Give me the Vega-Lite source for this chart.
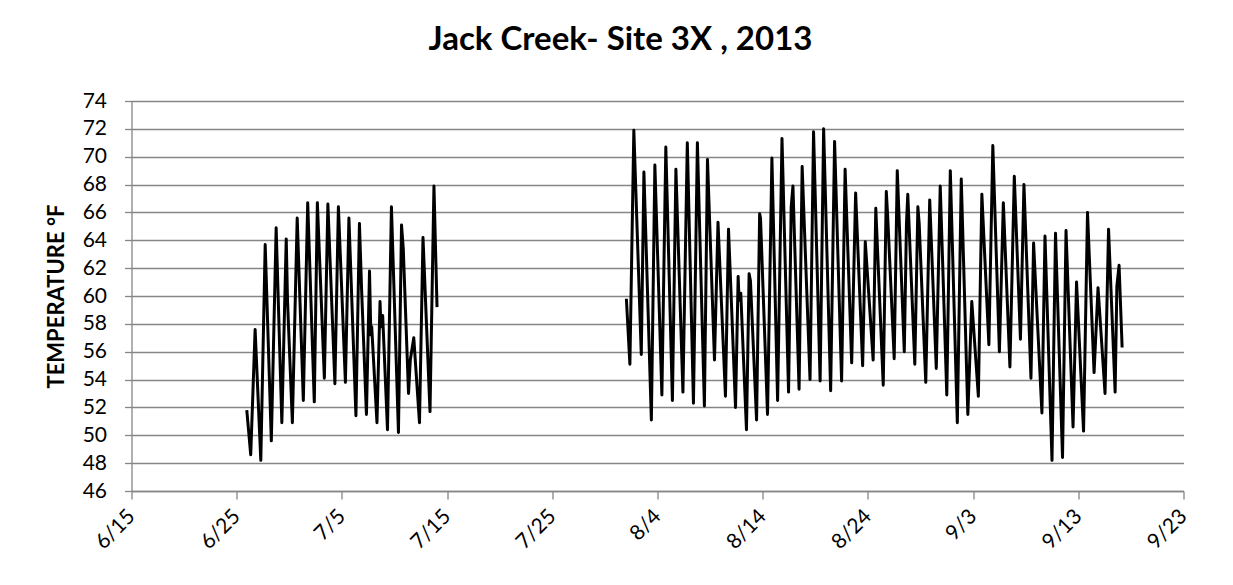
{
  "$schema": "https://vega.github.io/schema/vega-lite/v6.json",
  "width": 1052,
  "height": 390,
  "autosize": {"type": "none"},
  "padding": {"left": 131.5, "top": 101, "right": 49.5, "bottom": 94},
  "background": "white",
  "title": {
    "text": "Jack Creek- Site 3X , 2013",
    "font": "Lato",
    "fontSize": 33,
    "fontWeight": "bold",
    "color": "#000000",
    "anchor": "middle",
    "frame": "group",
    "dx": -37,
    "offset": 33
  },
  "data": {
    "values": [
      {"t": "2013-06-25T23:00", "temp": 51.8, "seg": 1},
      {"t": "2013-06-26T08:00", "temp": 48.6, "seg": 1},
      {"t": "2013-06-26T18:00", "temp": 57.6, "seg": 1},
      {"t": "2013-06-27T07:00", "temp": 48.2, "seg": 1},
      {"t": "2013-06-27T17:00", "temp": 63.7, "seg": 1},
      {"t": "2013-06-28T07:00", "temp": 49.6, "seg": 1},
      {"t": "2013-06-28T18:00", "temp": 64.9, "seg": 1},
      {"t": "2013-06-29T07:00", "temp": 50.9, "seg": 1},
      {"t": "2013-06-29T17:00", "temp": 64.1, "seg": 1},
      {"t": "2013-06-29T20:00", "temp": 59.6, "seg": 1},
      {"t": "2013-06-30T07:00", "temp": 50.9, "seg": 1},
      {"t": "2013-06-30T18:00", "temp": 65.6, "seg": 1},
      {"t": "2013-07-01T08:00", "temp": 52.5, "seg": 1},
      {"t": "2013-07-01T18:00", "temp": 66.7, "seg": 1},
      {"t": "2013-07-02T09:00", "temp": 52.4, "seg": 1},
      {"t": "2013-07-02T16:00", "temp": 66.7, "seg": 1},
      {"t": "2013-07-03T08:00", "temp": 54.1, "seg": 1},
      {"t": "2013-07-03T16:00", "temp": 66.6, "seg": 1},
      {"t": "2013-07-04T08:00", "temp": 53.7, "seg": 1},
      {"t": "2013-07-04T16:00", "temp": 66.4, "seg": 1},
      {"t": "2013-07-05T08:00", "temp": 53.8, "seg": 1},
      {"t": "2013-07-05T16:00", "temp": 65.6, "seg": 1},
      {"t": "2013-07-06T08:00", "temp": 51.4, "seg": 1},
      {"t": "2013-07-06T16:00", "temp": 65.2, "seg": 1},
      {"t": "2013-07-06T21:00", "temp": 60.4, "seg": 1},
      {"t": "2013-07-07T08:00", "temp": 51.5, "seg": 1},
      {"t": "2013-07-07T15:00", "temp": 61.8, "seg": 1},
      {"t": "2013-07-07T18:00", "temp": 57.2, "seg": 1},
      {"t": "2013-07-07T20:00", "temp": 57.8, "seg": 1},
      {"t": "2013-07-08T08:00", "temp": 50.9, "seg": 1},
      {"t": "2013-07-08T15:00", "temp": 59.6, "seg": 1},
      {"t": "2013-07-08T17:00", "temp": 57.8, "seg": 1},
      {"t": "2013-07-08T21:00", "temp": 58.6, "seg": 1},
      {"t": "2013-07-09T08:00", "temp": 50.4, "seg": 1},
      {"t": "2013-07-09T17:00", "temp": 66.4, "seg": 1},
      {"t": "2013-07-10T09:00", "temp": 50.2, "seg": 1},
      {"t": "2013-07-10T16:00", "temp": 65.1, "seg": 1},
      {"t": "2013-07-10T20:00", "temp": 63.4, "seg": 1},
      {"t": "2013-07-11T08:00", "temp": 53.0, "seg": 1},
      {"t": "2013-07-11T12:00", "temp": 55.4, "seg": 1},
      {"t": "2013-07-11T20:00", "temp": 57.0, "seg": 1},
      {"t": "2013-07-12T09:00", "temp": 50.9, "seg": 1},
      {"t": "2013-07-12T17:00", "temp": 64.2, "seg": 1},
      {"t": "2013-07-13T09:00", "temp": 51.7, "seg": 1},
      {"t": "2013-07-13T18:00", "temp": 67.9, "seg": 1},
      {"t": "2013-07-14T01:00", "temp": 59.2, "seg": 1},
      {"t": "2013-08-01T01:00", "temp": 59.8, "seg": 2},
      {"t": "2013-08-01T09:00", "temp": 55.1, "seg": 2},
      {"t": "2013-08-01T18:00", "temp": 71.9, "seg": 2},
      {"t": "2013-08-02T11:00", "temp": 55.8, "seg": 2},
      {"t": "2013-08-02T17:00", "temp": 68.9, "seg": 2},
      {"t": "2013-08-03T10:00", "temp": 51.1, "seg": 2},
      {"t": "2013-08-03T18:00", "temp": 69.4, "seg": 2},
      {"t": "2013-08-04T10:00", "temp": 52.9, "seg": 2},
      {"t": "2013-08-04T19:00", "temp": 70.7, "seg": 2},
      {"t": "2013-08-05T10:00", "temp": 52.5, "seg": 2},
      {"t": "2013-08-05T18:00", "temp": 69.1, "seg": 2},
      {"t": "2013-08-06T10:00", "temp": 53.1, "seg": 2},
      {"t": "2013-08-06T20:00", "temp": 71.0, "seg": 2},
      {"t": "2013-08-07T10:00", "temp": 52.3, "seg": 2},
      {"t": "2013-08-07T19:00", "temp": 71.0, "seg": 2},
      {"t": "2013-08-08T11:00", "temp": 52.1, "seg": 2},
      {"t": "2013-08-08T18:00", "temp": 69.8, "seg": 2},
      {"t": "2013-08-09T10:00", "temp": 55.4, "seg": 2},
      {"t": "2013-08-09T18:00", "temp": 65.3, "seg": 2},
      {"t": "2013-08-10T11:00", "temp": 52.8, "seg": 2},
      {"t": "2013-08-10T18:00", "temp": 64.8, "seg": 2},
      {"t": "2013-08-11T10:00", "temp": 52.0, "seg": 2},
      {"t": "2013-08-11T16:00", "temp": 61.4, "seg": 2},
      {"t": "2013-08-11T18:00", "temp": 59.7, "seg": 2},
      {"t": "2013-08-11T22:00", "temp": 60.2, "seg": 2},
      {"t": "2013-08-12T11:00", "temp": 50.4, "seg": 2},
      {"t": "2013-08-12T17:00", "temp": 61.6, "seg": 2},
      {"t": "2013-08-12T20:00", "temp": 61.1, "seg": 2},
      {"t": "2013-08-13T10:00", "temp": 51.1, "seg": 2},
      {"t": "2013-08-13T17:00", "temp": 65.9, "seg": 2},
      {"t": "2013-08-13T19:00", "temp": 65.6, "seg": 2},
      {"t": "2013-08-14T11:00", "temp": 51.5, "seg": 2},
      {"t": "2013-08-14T21:00", "temp": 69.9, "seg": 2},
      {"t": "2013-08-15T10:00", "temp": 52.5, "seg": 2},
      {"t": "2013-08-15T20:00", "temp": 71.3, "seg": 2},
      {"t": "2013-08-16T11:00", "temp": 53.1, "seg": 2},
      {"t": "2013-08-16T17:00", "temp": 66.4, "seg": 2},
      {"t": "2013-08-16T21:00", "temp": 67.9, "seg": 2},
      {"t": "2013-08-17T11:00", "temp": 53.3, "seg": 2},
      {"t": "2013-08-17T18:00", "temp": 69.3, "seg": 2},
      {"t": "2013-08-18T12:00", "temp": 54.0, "seg": 2},
      {"t": "2013-08-18T20:00", "temp": 71.8, "seg": 2},
      {"t": "2013-08-19T11:00", "temp": 53.9, "seg": 2},
      {"t": "2013-08-19T19:00", "temp": 72.0, "seg": 2},
      {"t": "2013-08-20T11:00", "temp": 53.2, "seg": 2},
      {"t": "2013-08-20T20:00", "temp": 71.1, "seg": 2},
      {"t": "2013-08-21T12:00", "temp": 53.9, "seg": 2},
      {"t": "2013-08-21T20:00", "temp": 69.1, "seg": 2},
      {"t": "2013-08-22T11:00", "temp": 55.2, "seg": 2},
      {"t": "2013-08-22T20:00", "temp": 67.4, "seg": 2},
      {"t": "2013-08-23T12:00", "temp": 55.0, "seg": 2},
      {"t": "2013-08-23T18:00", "temp": 63.9, "seg": 2},
      {"t": "2013-08-24T12:00", "temp": 55.4, "seg": 2},
      {"t": "2013-08-24T18:00", "temp": 66.3, "seg": 2},
      {"t": "2013-08-25T11:00", "temp": 53.6, "seg": 2},
      {"t": "2013-08-25T18:00", "temp": 67.5, "seg": 2},
      {"t": "2013-08-25T21:00", "temp": 65.8, "seg": 2},
      {"t": "2013-08-26T12:00", "temp": 55.5, "seg": 2},
      {"t": "2013-08-26T19:00", "temp": 69.0, "seg": 2},
      {"t": "2013-08-27T11:00", "temp": 56.0, "seg": 2},
      {"t": "2013-08-27T16:00", "temp": 65.2, "seg": 2},
      {"t": "2013-08-27T19:00", "temp": 67.3, "seg": 2},
      {"t": "2013-08-28T11:00", "temp": 55.1, "seg": 2},
      {"t": "2013-08-28T18:00", "temp": 66.4, "seg": 2},
      {"t": "2013-08-28T21:00", "temp": 65.2, "seg": 2},
      {"t": "2013-08-29T12:00", "temp": 53.8, "seg": 2},
      {"t": "2013-08-29T21:00", "temp": 66.9, "seg": 2},
      {"t": "2013-08-30T12:00", "temp": 54.8, "seg": 2},
      {"t": "2013-08-30T21:00", "temp": 67.9, "seg": 2},
      {"t": "2013-08-31T12:00", "temp": 52.9, "seg": 2},
      {"t": "2013-08-31T20:00", "temp": 69.0, "seg": 2},
      {"t": "2013-09-01T12:00", "temp": 50.9, "seg": 2},
      {"t": "2013-09-01T21:00", "temp": 68.4, "seg": 2},
      {"t": "2013-09-02T12:00", "temp": 51.5, "seg": 2},
      {"t": "2013-09-02T21:00", "temp": 59.6, "seg": 2},
      {"t": "2013-09-03T12:00", "temp": 52.8, "seg": 2},
      {"t": "2013-09-03T20:00", "temp": 67.3, "seg": 2},
      {"t": "2013-09-04T12:00", "temp": 56.5, "seg": 2},
      {"t": "2013-09-04T21:00", "temp": 70.8, "seg": 2},
      {"t": "2013-09-05T12:00", "temp": 56.0, "seg": 2},
      {"t": "2013-09-05T21:00", "temp": 66.7, "seg": 2},
      {"t": "2013-09-06T12:00", "temp": 54.9, "seg": 2},
      {"t": "2013-09-06T22:00", "temp": 68.6, "seg": 2},
      {"t": "2013-09-07T12:00", "temp": 56.9, "seg": 2},
      {"t": "2013-09-07T20:00", "temp": 68.0, "seg": 2},
      {"t": "2013-09-08T12:00", "temp": 54.1, "seg": 2},
      {"t": "2013-09-08T18:00", "temp": 63.8, "seg": 2},
      {"t": "2013-09-09T13:00", "temp": 51.6, "seg": 2},
      {"t": "2013-09-09T20:00", "temp": 64.3, "seg": 2},
      {"t": "2013-09-10T12:00", "temp": 48.2, "seg": 2},
      {"t": "2013-09-10T20:00", "temp": 64.5, "seg": 2},
      {"t": "2013-09-11T12:00", "temp": 48.4, "seg": 2},
      {"t": "2013-09-11T20:00", "temp": 64.7, "seg": 2},
      {"t": "2013-09-12T12:00", "temp": 50.6, "seg": 2},
      {"t": "2013-09-12T20:00", "temp": 61.0, "seg": 2},
      {"t": "2013-09-13T12:00", "temp": 50.3, "seg": 2},
      {"t": "2013-09-13T21:00", "temp": 66.0, "seg": 2},
      {"t": "2013-09-14T12:00", "temp": 54.5, "seg": 2},
      {"t": "2013-09-14T21:00", "temp": 60.6, "seg": 2},
      {"t": "2013-09-15T13:00", "temp": 53.0, "seg": 2},
      {"t": "2013-09-15T21:00", "temp": 64.8, "seg": 2},
      {"t": "2013-09-16T12:00", "temp": 53.1, "seg": 2},
      {"t": "2013-09-16T16:00", "temp": 60.7, "seg": 2},
      {"t": "2013-09-16T21:00", "temp": 62.2, "seg": 2},
      {"t": "2013-09-17T04:00", "temp": 56.3, "seg": 2}
    ]
  },
  "mark": {"type": "line", "color": "#000000", "strokeWidth": 3, "strokeJoin": "round", "clip": true},
  "encoding": {
    "x": {
      "field": "t",
      "type": "temporal",
      "scale": {
        "domain": [
          {"year": 2013, "month": 6, "date": 15},
          {"year": 2013, "month": 9, "date": 23}
        ]
      },
      "axis": {
        "title": null,
        "grid": false,
        "format": "%-m/%-d",
        "values": [
          {"year": 2013, "month": 6, "date": 15},
          {"year": 2013, "month": 6, "date": 25},
          {"year": 2013, "month": 7, "date": 5},
          {"year": 2013, "month": 7, "date": 15},
          {"year": 2013, "month": 7, "date": 25},
          {"year": 2013, "month": 8, "date": 4},
          {"year": 2013, "month": 8, "date": 14},
          {"year": 2013, "month": 8, "date": 24},
          {"year": 2013, "month": 9, "date": 3},
          {"year": 2013, "month": 9, "date": 13},
          {"year": 2013, "month": 9, "date": 23}
        ],
        "labelAngle": -45,
        "labelAlign": "right",
        "labelBaseline": "middle",
        "labelPadding": 14,
        "labelFont": "Lato",
        "labelFontSize": 21,
        "labelColor": "#000000",
        "labelOverlap": false,
        "labelFlush": false,
        "tickSize": 8,
        "tickColor": "#868686",
        "domainColor": "#868686",
        "domainWidth": 1.3,
        "tickWidth": 1.3
      }
    },
    "y": {
      "field": "temp",
      "type": "quantitative",
      "scale": {"domain": [46, 74], "nice": false, "zero": false},
      "axis": {
        "title": "TEMPERATURE °F",
        "titleFont": "Lato",
        "titleFontSize": 22,
        "titleFontWeight": "bold",
        "titleColor": "#000000",
        "titlePadding": 14,
        "values": [46, 48, 50, 52, 54, 56, 58, 60, 62, 64, 66, 68, 70, 72, 74],
        "labelFont": "Lato",
        "labelFontSize": 21,
        "labelColor": "#000000",
        "labelPadding": 18,
        "labelFlush": false,
        "labelOverlap": false,
        "tickSize": 7,
        "tickColor": "#868686",
        "tickWidth": 1.3,
        "domainColor": "#868686",
        "domainWidth": 1.3,
        "grid": true,
        "gridColor": "#868686",
        "gridWidth": 1.3
      }
    },
    "detail": {"field": "seg", "type": "nominal"}
  },
  "config": {
    "view": {"stroke": null}
  }
}
